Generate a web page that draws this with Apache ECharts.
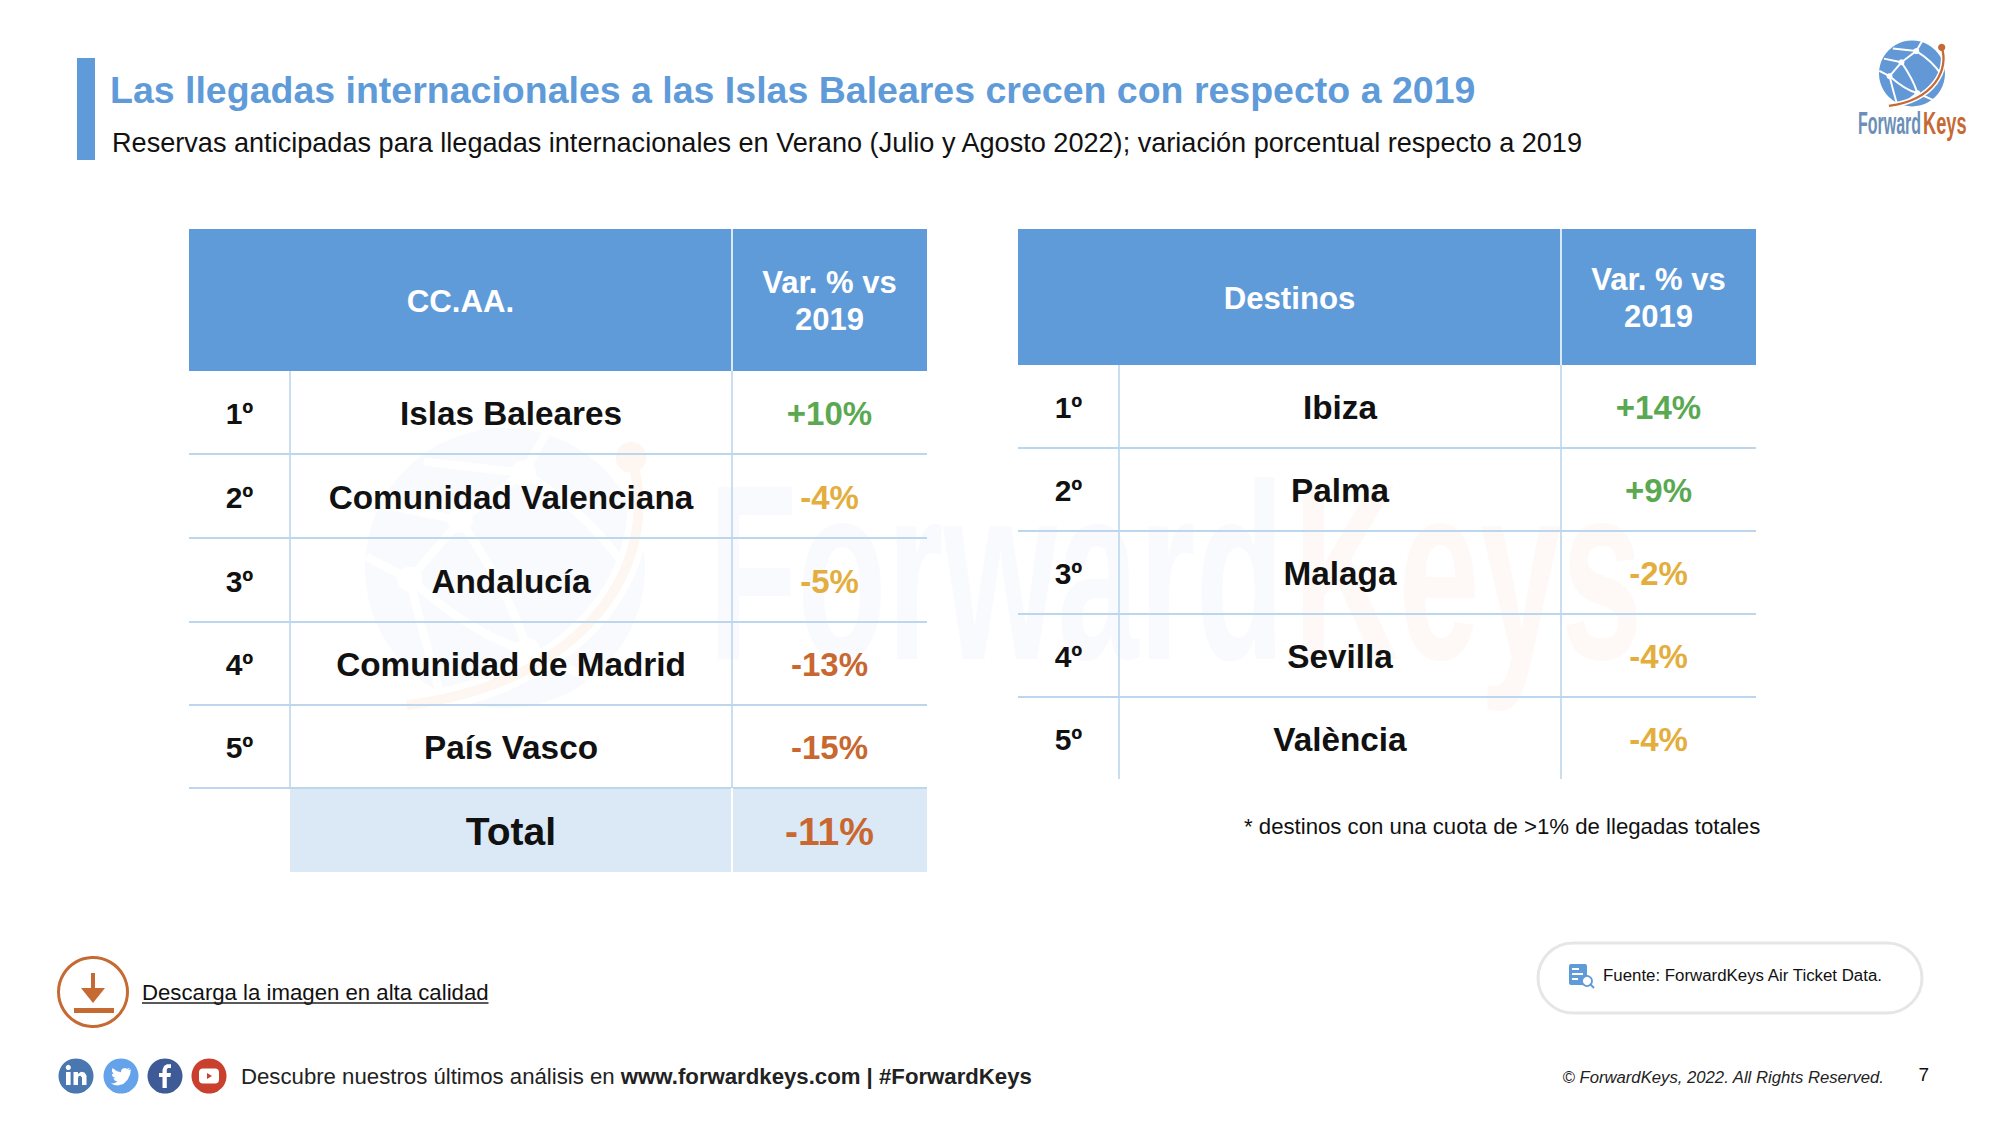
<!DOCTYPE html>
<html><head><meta charset="utf-8">
<style>html,body{margin:0;padding:0;background:#fff}#c{width:2000px;height:1125px}</style>
<script src="https://cdn.jsdelivr.net/npm/echarts@6/dist/echarts.min.js"></script>
</head><body><div id="c"></div>
<script>
// ---- data ----
const titleText = 'Las llegadas internacionales a las Islas Baleares crecen con respecto a 2019';
const subtitleText = 'Reservas anticipadas para llegadas internacionales en Verano (Julio y Agosto 2022); variación porcentual respecto a 2019';
const ranks = ['1º','2º','3º','4º','5º'];
const varHeader = 'Var. % vs\n2019';
const ccaaHeader = 'CC.AA.';
const ccaaNames = ['Islas Baleares','Comunidad Valenciana','Andalucía','Comunidad de Madrid','País Vasco'];
const ccaaVar = [10,-4,-5,-13,-15];
const totalLabel = 'Total';
const totalVar = -11;
const destHeader = 'Destinos';
const destNames = ['Ibiza','Palma','Malaga','Sevilla','València'];
const destVar = [14,9,-2,-4,-4];
const noteText = '* destinos con una cuota de >1% de llegadas totales';
const downloadText = 'Descarga la imagen en alta calidad';
const footerPlain = 'Descubre nuestros últimos análisis en ';
const footerBold = 'www.forwardkeys.com | #ForwardKeys';
const sourceText = 'Fuente: ForwardKeys Air Ticket Data.';
const copyrightText = '© ForwardKeys, 2022. All Rights Reserved.';
const pageNumber = '7';

// ---- layout and style ----
const FONT = '"Liberation Sans", Arial, sans-serif';
const BLUE = '#5f9bd9', RULE = '#bcd6ee', TOTALFILL = '#dbe9f7', INK = '#111111', ORANGE = '#c66a33';
const colEdges = [0,101,543,738];
const rowsA = [0,142,225,309,393,476,559,643];
const rowsB = [0,136,219,302,385,468,550];
const fmtVar = v => (v > 0 ? '+' : '') + v + '%';
const varColor = v => v > 0 ? '#5aa952' : (v >= -10 ? '#e3ae3e' : '#c8672f');

function buildCells(header, names, vars, rows, total) {
  const cells = [];
  const add = (c0,c1,r0,r1,text,o) => cells.push(Object.assign({value:[colEdges[c0],colEdges[c1],rows[r0],rows[r1]],text},o));
  add(0,2,0,1,header,{fill:BLUE,color:'#fff',size:31.2});
  add(2,3,0,1,varHeader,{fill:BLUE,color:'#fff',size:31,lh:37});
  names.forEach((n,i)=>{
    add(0,1,i+1,i+2,ranks[i],{color:INK,size:30});
    add(1,2,i+1,i+2,n,{color:INK,size:33.3});
    add(2,3,i+1,i+2,fmtVar(vars[i]),{color:varColor(vars[i]),size:33});
  });
  if (total) {
    add(1,2,6,7,total.label,{fill:TOTALFILL,color:INK,size:39});
    add(2,3,6,7,fmtVar(total.value),{fill:TOTALFILL,color:varColor(total.value),size:39});
  }
  return cells;
}
function buildRules(rows, hasTotal) {
  const bodyEnd = hasTotal ? rows.length-2 : rows.length-1;
  const r = [];
  for (let i=2;i<=bodyEnd;i++) if (i<rows.length-1 || hasTotal) r.push({value:[colEdges[0],rows[i],colEdges[3],rows[i]],color:RULE,w:2.2});
  r.push({value:[colEdges[1],rows[1],colEdges[1],rows[bodyEnd]],color:RULE,w:1.6});
  r.push({value:[colEdges[2],rows[1],colEdges[2],rows[bodyEnd]],color:RULE,w:1.6});
  r.push({value:[colEdges[2],rows[0],colEdges[2],rows[1]],color:'#dbe8f6',w:2});
  if (hasTotal) r.push({value:[colEdges[2],rows[bodyEnd],colEdges[2],rows[bodyEnd+1]],color:'#ffffff',w:2});
  return r;
}
function cellSeries(idx, cells) {
  return {type:'custom',xAxisIndex:idx,yAxisIndex:idx,clip:false,silent:true,z:2,data:cells,
    encode:{x:[0,1],y:[2,3]},
    renderItem(p,api){
      const d=cells[p.dataIndex];
      const a=api.coord([api.value(0),api.value(2)]), b=api.coord([api.value(1),api.value(3)]);
      const ch=[];
      if(d.fill) ch.push({type:'rect',shape:{x:a[0],y:a[1],width:b[0]-a[0],height:b[1]-a[1]},style:{fill:d.fill}});
      ch.push({type:'text',style:{text:d.text,x:(a[0]+b[0])/2,y:(a[1]+b[1])/2+1,align:'center',verticalAlign:'middle',
        fill:d.color,font:'bold '+d.size+'px '+FONT,lineHeight:d.lh||undefined}});
      return {type:'group',children:ch};
    }};
}
function ruleSeries(idx, rules) {
  return {type:'custom',xAxisIndex:idx,yAxisIndex:idx,clip:false,silent:true,z:3,data:rules,
    encode:{x:[0,2],y:[1,3]},
    renderItem(p,api){
      const d=rules[p.dataIndex];
      const a=api.coord([api.value(0),api.value(1)]), b=api.coord([api.value(2),api.value(3)]);
      return {type:'line',shape:{x1:a[0],y1:a[1],x2:b[0],y2:b[1]},style:{stroke:d.color,lineWidth:d.w}};
    }};
}
function axisX(i){return {type:'value',gridIndex:i,min:0,max:colEdges[3],show:false};}
function axisY(i,rows){return {type:'value',gridIndex:i,min:0,max:rows[rows.length-1],inverse:true,show:false};}

// logo drawn on a 100-unit radius
function logo(cx,cy,r,disk,net,arc,halo,z){
  const s=r/100;
  const ch=[{type:'circle',shape:{cx:0,cy:0,r:100},style:{fill:disk}}];
  const L=(a,b,c,d)=>ch.push({type:'line',shape:{x1:a,y1:b,x2:c,y2:d},style:{stroke:net,lineWidth:6}});
  const Q=(a,b,cx1,cy1,c,d)=>ch.push({type:'bezierCurve',shape:{x1:a,y1:b,cpx1:cx1,cpy1:cy1,x2:c,y2:d},style:{stroke:net,lineWidth:6,fill:'none'}});
  L(-68,8,-32,-34);L(-32,-34,13,-68);Q(-68,8,-20,50,16,59);Q(-32,-34,5,20,16,59);Q(13,-68,60,-40,90,5);
  Q(-68,8,-58,50,-47,87);L(16,59,68,82);L(13,-68,-58,-76);L(-32,-34,-85,-45);L(-68,8,-99,-8);Q(16,59,-8,78,-30,95);L(13,-68,30,-97);
  [[-68,8],[-32,-34],[13,-68],[16,59]].forEach(n=>ch.push({type:'circle',shape:{cx:n[0],cy:n[1],r:9},style:{fill:net}}));
  const arcS={x1:90,y1:-79,cpx1:112,cpy1:-15,cpx2:70,cpy2:80,x2:-70,y2:98};
  ch.push({type:'bezierCurve',shape:arcS,style:{fill:'none',stroke:halo,lineWidth:16}});
  ch.push({type:'bezierCurve',shape:arcS,style:{fill:'none',stroke:arc,lineWidth:7}});
  ch.push({type:'circle',shape:{cx:90,cy:-79,r:11},style:{fill:arc}});
  return {type:'group',x:cx,y:cy,scaleX:s,scaleY:s,z:z,silent:true,children:ch};
}
function wordmark(x,y,size,sx,c1,x2,c2,sx2,z){
  return [
    {type:'text',x:x,y:y,scaleX:sx,z:z,silent:true,style:{text:'Forward',x:0,y:0,align:'left',verticalAlign:'middle',font:'bold '+size+'px '+FONT,fill:c1}},
    {type:'text',x:x2,y:y,scaleX:sx2,z:z,silent:true,style:{text:'Keys',x:0,y:0,align:'left',verticalAlign:'middle',font:'bold '+size+'px '+FONT,fill:c2}}
  ];
}
function gtext(text,x,y,size,color,o){
  o=o||{};
  return {type:'text',x:x,y:y,z:5,silent:true,style:{text:text,x:0,y:0,align:o.align||'left',verticalAlign:'middle',
    font:(o.style||'')+' '+size+'px '+FONT,fill:color}};
}
const socialY=1076, socialR=17.5;
function social(cx,color,glyph){
  return {type:'group',x:cx,y:socialY,silent:true,z:5,children:[{type:'circle',shape:{cx:0,cy:0,r:socialR},style:{fill:color}}].concat(glyph)};
}
const W='#ffffff';
const birdOutline=[[22,5],[19,6],[21,3.3],[18,4.5],[15.5,3.6],[13,4.5],[11.7,6.2],[11.6,8.2],[7.5,7.2],[2.5,3.7],[2,7],[4,10.3],[1.8,9.7],[2.8,12.5],[5.8,14.5],[3.5,14.6],[5.2,17],[8,18],[4.5,19.7],[1,19.9],[4.5,21.5],[8.3,22],[14,20.6],[18.5,16],[21.3,10],[21.5,8]];
const graphics=[
  // watermark
  logo(505,568,140,'#f8fafd','#ffffff','#fdf6f1','#ffffff',0),
  ...wordmark(708,572,250,0.585,'#f8fafe',1293,'#fef9f6',0.585,0),
  // accent bar
  {type:'rect',shape:{x:77,y:58,width:18,height:102},style:{fill:BLUE},z:5,silent:true},
  // top-right logo
  logo(1912,73.5,33,'#6298d6','#ffffff','#c66a33','#ffffff',5),
  ...wordmark(1858,123,32,0.5,'#6b8fb8',1923,'#c66a33',0.57,5),
  // note
  gtext(noteText,1244,826.5,22.2,'#111111'),
  // download
  {type:'circle',shape:{cx:93,cy:992,r:34.5},style:{fill:'none',stroke:ORANGE,lineWidth:3},z:5,silent:true},
  {type:'line',shape:{x1:93,y1:973,x2:93,y2:996},style:{stroke:ORANGE,lineWidth:4},z:5,silent:true},
  {type:'polygon',shape:{points:[[81,988],[105,988],[93,1003]]},style:{fill:ORANGE},z:5,silent:true},
  {type:'rect',shape:{x:74,y:1008,width:40,height:5},style:{fill:ORANGE},z:5,silent:true},
  gtext(downloadText,142,992.5,22.2,'#111111'),
  {type:'line',shape:{x1:142,y1:1003,x2:488.5,y2:1003},style:{stroke:'#222',lineWidth:1.6},z:5,silent:true},
  // social
  social(76,'#4a77b0',[
    {type:'rect',shape:{x:-10,y:-4,width:4.6,height:13},style:{fill:W}},
    {type:'circle',shape:{cx:-7.7,cy:-8.6,r:2.6},style:{fill:W}},
    {type:'polygon',shape:{points:[[-2.5,-4],[2,-4],[2,-2],[5,-4.3],[8.5,-3.6],[10.5,-0.5],[10.5,9],[6,9],[6,1.5],[4.5,-0.3],[2.6,0.3],[2,2],[2,9],[-2.5,9]]},style:{fill:W}}]),
  social(121,'#64a3ea',[{type:'group',x:-11,y:-11.5,scaleX:0.95,scaleY:0.95,children:[{type:'polygon',shape:{points:birdOutline},style:{fill:W}}]}]),
  social(165,'#3e5b98',[{type:'polygon',shape:{points:[[-2.5,12],[-2.5,1],[-6,1],[-6,-3],[-2.5,-3],[-2.5,-6],[-1,-10],[2,-11.8],[6,-11.8],[6,-8],[3,-8],[1.8,-6.8],[1.8,-3],[6,-3],[5.4,1],[1.8,1],[1.8,12]]},style:{fill:W}}]),
  social(209,'#c9402f',[
    {type:'rect',shape:{x:-10,y:-7.5,width:20,height:15,r:4},style:{fill:W}},
    {type:'polygon',shape:{points:[[-2,-3],[-2,3],[3,0]]},style:{fill:'#c9402f'}}]),
  {type:'text',x:241,y:1076,z:5,silent:true,style:{
    text:'{a|'+footerPlain+'}{b|'+footerBold+'}',x:0,y:0,align:'left',verticalAlign:'middle',
    rich:{a:{font:'22.2px '+FONT,fill:'#222222'},b:{font:'bold 22.2px '+FONT,fill:'#222222'}}}},
  // source pill
  {type:'rect',shape:{x:1538,y:943,width:384,height:70,r:35},style:{fill:'#fff',stroke:'#e6e6e6',lineWidth:3},z:4,silent:true},
  {type:'rect',shape:{x:1569,y:964,width:18,height:21,r:2},style:{fill:BLUE},z:5,silent:true},
  {type:'rect',shape:{x:1572,y:968,width:7,height:2},style:{fill:W},z:5,silent:true},
  {type:'rect',shape:{x:1572,y:973,width:11,height:2},style:{fill:W},z:5,silent:true},
  {type:'rect',shape:{x:1572,y:978,width:6,height:2},style:{fill:W},z:5,silent:true},
  {type:'circle',shape:{cx:1587,cy:981,r:5},style:{fill:W,stroke:BLUE,lineWidth:1.8},z:5,silent:true},
  {type:'line',shape:{x1:1590.5,y1:984.5,x2:1594,y2:988},style:{stroke:BLUE,lineWidth:2},z:5,silent:true},
  gtext(sourceText,1603,975.5,16.85,'#111111'),
  gtext(copyrightText,1562.5,1077,16.7,'#222222',{style:'italic'}),
  gtext(pageNumber,1918.5,1074.5,19,'#111111')
];

const chart=echarts.init(document.getElementById('c'),null,{renderer:'svg',width:2000,height:1125});
chart.setOption({
  animation:false,
  backgroundColor:'#ffffff',
  title:[
    {text:titleText,left:105,top:65.5,textStyle:{fontFamily:FONT,fontWeight:'bold',fontSize:37.5,color:BLUE}},
    {text:subtitleText,left:107,top:124,textStyle:{fontFamily:FONT,fontWeight:'normal',fontSize:27.1,color:'#111111'}}
  ],
  grid:[
    {left:189,top:229,width:colEdges[3],height:rowsA[rowsA.length-1]},
    {left:1018,top:229,width:colEdges[3],height:rowsB[rowsB.length-1]}
  ],
  xAxis:[axisX(0),axisX(1)],
  yAxis:[axisY(0,rowsA),axisY(1,rowsB)],
  series:[
    cellSeries(0,buildCells(ccaaHeader,ccaaNames,ccaaVar,rowsA,{label:totalLabel,value:totalVar})),
    ruleSeries(0,buildRules(rowsA,true)),
    cellSeries(1,buildCells(destHeader,destNames,destVar,rowsB,null)),
    ruleSeries(1,buildRules(rowsB,false))
  ],
  graphic:{elements:graphics}
});
</script></body></html>
